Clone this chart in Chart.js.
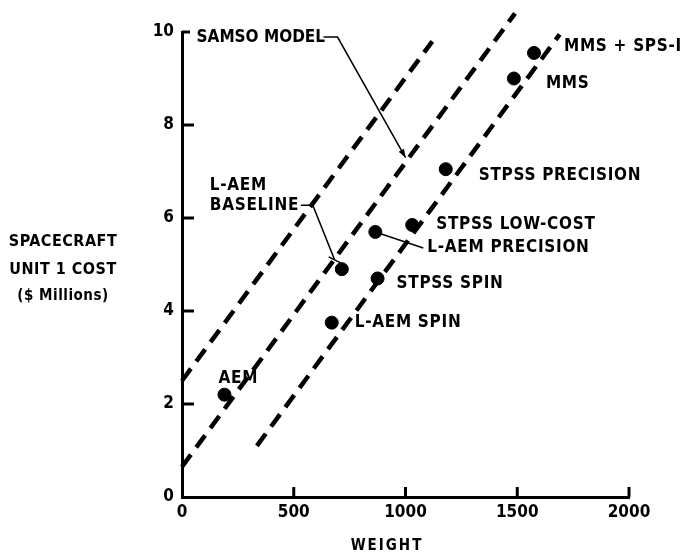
<!DOCTYPE html>
<html>
<head>
<meta charset="utf-8">
<script src="https://cdn.jsdelivr.net/npm/chart.js@4"></script>
<style>
html,body{margin:0;padding:0;background:#fff;}
canvas{display:block;}
</style>
</head>
<body>
<canvas id="chart" width="687" height="554"></canvas>
<script>
// spacecraft points (weight, unit 1 cost in $M)
const pointNames = ['AEM','L-AEM SPIN','L-AEM BASELINE','STPSS SPIN','L-AEM PRECISION','STPSS LOW-COST','STPSS PRECISION','MMS','MMS + SPS-I'];
const weights = [190, 670, 715, 875, 865, 1030, 1180, 1485, 1575];
const costs   = [2.2, 3.75, 4.9, 4.7, 5.7, 5.85, 7.05, 9.0, 9.55];

// SAMSO model line and its two bounds (end points)
const upperX = [0, 1120];    const upperY = [2.5, 9.8];
const modelX = [0, 1490];    const modelY = [0.65, 10.4];
const lowerX = [335, 1690];  const lowerY = [1.1, 9.95];

const xTicks = [0, 500, 1000, 1500, 2000];
const yTicks = [0, 2, 4, 6, 8, 10];

const FONT = '"DejaVu Sans Condensed", "Liberation Sans Narrow", sans-serif';

// where each point label sits, in px from its dot
const labelPlace = {
    'AEM': {dx: -6, dy: -16},
    'L-AEM SPIN': {dx: 23, dy: 0},
    'L-AEM BASELINE': {dx: -132, dy: -84, lines: ['L-AEM','BASELINE']},
    'STPSS SPIN': {dx: 19, dy: 5},
    'L-AEM PRECISION': {dx: 52, dy: 16, leader: true},
    'STPSS LOW-COST': {dx: 24, dy: 0},
    'STPSS PRECISION': {dx: 33, dy: 6},
    'MMS': {dx: 32, dy: 5},
    'MMS + SPS-I': {dx: 30, dy: -6}
};

function pts(xs, ys){ return xs.map((x,i)=>({x:x, y:ys[i]})); }

function arrow(ctx, x0, y0, x1, y1){
    const a = Math.atan2(y1-y0, x1-x0), L = 9;
    ctx.beginPath();
    ctx.moveTo(x1, y1);
    ctx.lineTo(x1 - L*Math.cos(a-0.35), y1 - L*Math.sin(a-0.35));
    ctx.lineTo(x1 - L*Math.cos(a+0.35), y1 - L*Math.sin(a+0.35));
    ctx.closePath();
    ctx.fill();
}

const annotations = {
    id: 'annotations',
    afterDraw(chart){
        const ctx = chart.ctx;
        const xs = chart.scales.x, ys = chart.scales.y;
        const ca = chart.chartArea;
        ctx.save();
        ctx.strokeStyle = '#000';
        ctx.fillStyle = '#000';

        // inward ticks
        ctx.lineWidth = 3;
        yTicks.forEach(v=>{
            if(v === 0) return;
            const py = ys.getPixelForValue(v);
            ctx.beginPath();
            ctx.moveTo(ca.left, py);
            ctx.lineTo(ca.left + (v === 10 ? 8 : 12), py);
            ctx.stroke();
        });
        xTicks.forEach(v=>{
            if(v === 0) return;
            const px = xs.getPixelForValue(v);
            ctx.beginPath();
            ctx.moveTo(px, ca.bottom);
            ctx.lineTo(px, ca.bottom - 10);
            ctx.stroke();
        });

        ctx.font = 'bold 17px ' + FONT;
        ctx.letterSpacing = '0.7px';
        ctx.textBaseline = 'middle';
        ctx.textAlign = 'left';
        ctx.lineWidth = 1.5;

        // point labels
        pointNames.forEach((name,i)=>{
            const p = labelPlace[name];
            const px = xs.getPixelForValue(weights[i]);
            const py = ys.getPixelForValue(costs[i]);
            const tx = px + p.dx, ty = py + p.dy;
            if(p.lines){
                p.lines.forEach((t,k)=> ctx.fillText(t, tx, ty + k*20));
            } else {
                ctx.fillText(name, tx, ty);
            }
            if(p.leader){
                ctx.beginPath();
                ctx.moveTo(px, py);
                ctx.lineTo(tx - 4, ty);
                ctx.stroke();
            }
        });

        // L-AEM BASELINE leader to the model line
        const bi = pointNames.indexOf('L-AEM BASELINE');
        const bx = xs.getPixelForValue(weights[bi]) + labelPlace['L-AEM BASELINE'].dx;
        const by = ys.getPixelForValue(costs[bi]) + labelPlace['L-AEM BASELINE'].dy + 20;
        const btx = xs.getPixelForValue(683), bty = ys.getPixelForValue(5.1);
        ctx.beginPath();
        ctx.moveTo(bx + 91, by);
        ctx.lineTo(bx + 103, by);
        ctx.lineTo(btx, bty);
        ctx.moveTo(btx - 6, bty - 3);
        ctx.lineTo(btx + 6, bty + 3);
        ctx.stroke();

        // SAMSO MODEL label + arrow
        ctx.letterSpacing = '0px';
        const sx = xs.getPixelForValue(65), sy = ys.getPixelForValue(9.87);
        ctx.fillText('SAMSO MODEL', sx, sy);
        const ax = xs.getPixelForValue(1000), ay = ys.getPixelForValue(7.3);
        ctx.beginPath();
        ctx.moveTo(sx + 127, sy - 1);
        ctx.lineTo(sx + 141, sy - 1);
        ctx.lineTo(ax, ay);
        ctx.stroke();
        arrow(ctx, sx + 141, sy - 1, ax, ay);

        // axis titles
        ctx.textAlign = 'center';
        ctx.font = 'bold 16px ' + FONT;
        ctx.letterSpacing = '0.5px';
        ctx.fillText('SPACECRAFT', 63, 242);
        ctx.fillText('UNIT 1 COST', 63, 270);
        ctx.font = 'bold 15px ' + FONT;
        ctx.fillText('($ Millions)', 63, 296);
        ctx.font = 'bold 15px ' + FONT;
        ctx.letterSpacing = '2px';
        ctx.fillText('WEIGHT', 387, 546);
        ctx.restore();
    }
};

const lineStyle = {
    showLine: true,
    borderColor: '#000',
    borderWidth: 4.5,
    borderDash: [15, 9],
    pointRadius: 0,
    clip: false,
    fill: false
};

const tickFont = {family: FONT, size: 17, weight: 'bold'};

new Chart(document.getElementById('chart').getContext('2d'), {
    type: 'scatter',
    data: {
        datasets: [
            Object.assign({label: 'upper', data: pts(upperX, upperY)}, lineStyle),
            Object.assign({label: 'SAMSO model', data: pts(modelX, modelY)}, lineStyle),
            Object.assign({label: 'lower', data: pts(lowerX, lowerY)}, lineStyle),
            {
                label: 'spacecraft',
                data: pts(weights, costs),
                showLine: false,
                pointRadius: 6.5,
                pointBackgroundColor: '#000',
                pointBorderColor: '#000',
                clip: false
            }
        ]
    },
    options: {
        responsive: false,
        animation: false,
        layout: {padding: {left: 0, right: 58, top: 32, bottom: 0}},
        plugins: {legend: {display: false}, tooltip: {enabled: false}},
        scales: {
            x: {
                type: 'linear', min: 0, max: 2000,
                afterFit: s => { s.height = 57; },
                afterBuildTicks: s => { s.ticks = xTicks.map(v=>({value:v})); },
                grid: {drawOnChartArea: false, drawTicks: false},
                border: {color: '#000', width: 3},
                ticks: {color: '#000', padding: 5, font: tickFont, callback: v => String(v)}
            },
            y: {
                type: 'linear', min: 0, max: 10,
                afterFit: s => { s.width = 182; },
                afterBuildTicks: s => { s.ticks = yTicks.map(v=>({value:v})); },
                grid: {drawOnChartArea: false, drawTicks: false},
                border: {color: '#000', width: 3},
                ticks: {color: '#000', padding: 8, font: tickFont, callback: v => String(v)}
            }
        }
    },
    plugins: [annotations]
});
</script>
</body>
</html>
